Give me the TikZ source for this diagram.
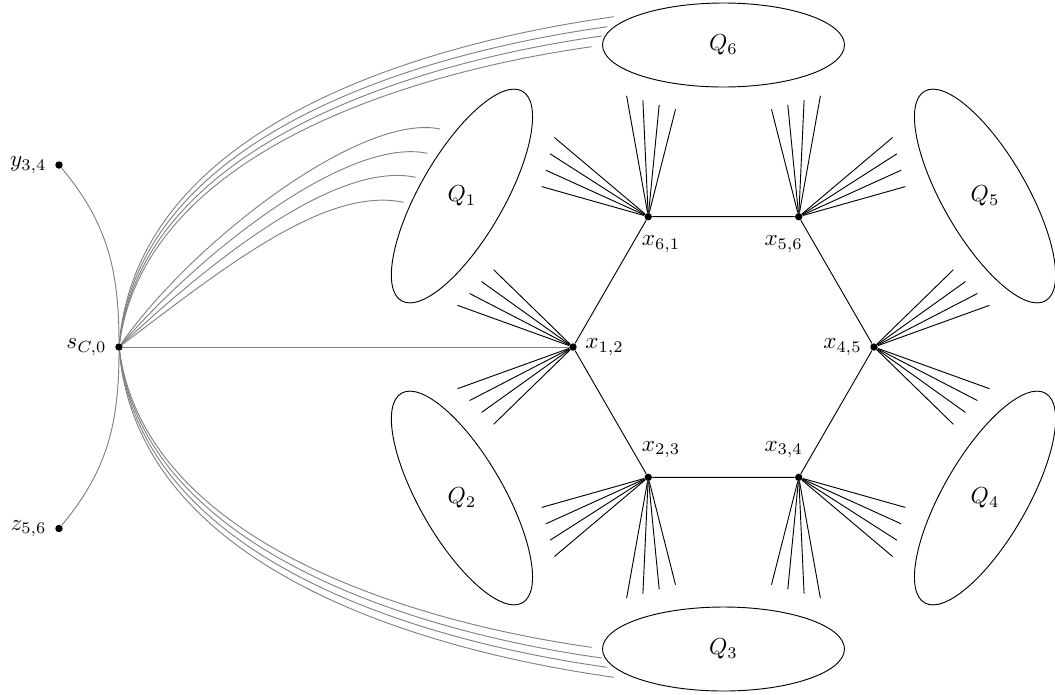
\documentclass[tikz,border=0pt]{standalone}
\usetikzlibrary{shapes.geometric}
\begin{document}
\begin{tikzpicture}[x=0.0151659cm, y=0.0151659cm,
  dot/.style={circle, fill=black, inner sep=0pt, minimum size=3.2pt},
  qell/.style={draw, ellipse, inner sep=0pt, minimum width=36.70mm, minimum height=12.74mm},
  fan/.style={black},
  link/.style={gray},
  hexedge/.style={black}]
\useasboundingbox (-723.5,-347) rectangle (331.5,347);

% hexagon vertices
\node[dot, label={[label distance=3pt, xshift=-6.5pt]below:$x_{5,6}$}] (x56) at (60:150.5) {};
\node[dot, label={[label distance=3pt, xshift=5.5pt]below:$x_{6,1}$}] (x61) at (120:150.5) {};
\node[dot, label={right:$x_{1,2}$}] (x12) at (180:150.5) {};
\node[dot, label={[label distance=3pt, xshift=5.5pt]above:$x_{2,3}$}] (x23) at (240:150.5) {};
\node[dot, label={[label distance=3pt, xshift=-6.5pt]above:$x_{3,4}$}] (x34) at (300:150.5) {};
\node[dot, label={left:$x_{4,5}$}] (x45) at (0:150.5) {};

\draw[hexedge] (x12) -- (x23) -- (x34) -- (x45) -- (x56) -- (x61) -- (x12);

% Q ellipses
\foreach \k/\q in {0/6,1/1,2/2,3/3,4/4,5/5}{
  \node[qell, rotate=60*\k] (Q\q) at ({90+60*\k}:302) {};
  \node (Q\q lab) at (Q\q) {$Q_{\q}$};
}

% fans
\foreach \k/\r/\l in {0/x56/x61, 1/x61/x12, 2/x12/x23, 3/x23/x34, 4/x34/x45, 5/x45/x56}{
  \begin{scope}[rotate=60*\k]
    \foreach \i in {0,...,3}{
      \coordinate (fr\k-\i) at ({48+16.3*\i},{237.7+4.5*\i});
      \coordinate (fl\k-\i) at ({-48-16.3*\i},{237.7+4.5*\i});
      \draw[fan] (\r) -- (fr\k-\i);
      \draw[fan] (\l) -- (fl\k-\i);
    }
  \end{scope}
}

% left nodes
\node[dot, label={left:$s_{C,0}$}] (s) at (-604.5,0) {};
\node[dot, label={left:$y_{3,4}$}] (y34) at (-664.5,182) {};
\node[dot, label={left:$z_{5,6}$}] (z56) at (-664.5,-181.5) {};

\draw[link] (s) to[out=90, in=-50] (y34);
\draw[link] (s) to[out=-90, in=50] (z56);
\draw[link] (s) -- (x12);

% curve ends
\coordinate (e6a) at (-109.5,330.3);
\coordinate (e6b) at (-116.2,320.3);
\coordinate (e6c) at (-121.8,311);
\coordinate (e6d) at (-131.8,300.3);
\coordinate (e3a) at (-109.5,-330.3);
\coordinate (e3b) at (-116.2,-320.3);
\coordinate (e3c) at (-121.8,-311);
\coordinate (e3d) at (-131.8,-300.3);
\coordinate (e1a) at (-283.5,218);
\coordinate (e1b) at (-296.2,193.7);
\coordinate (e1c) at (-307.8,169.7);
\coordinate (e1d) at (-319.8,144.7);

\draw[link] (s) .. controls +(85:220) and +(188:200) .. (e6a);
\draw[link] (s) .. controls +(84:212) and +(188:195) .. (e6b);
\draw[link] (s) .. controls +(83:204) and +(188:190) .. (e6c);
\draw[link] (s) .. controls +(82:196) and +(188:185) .. (e6d);

\draw[link] (s) .. controls +(-85:220) and +(172:200) .. (e3a);
\draw[link] (s) .. controls +(-84:212) and +(172:195) .. (e3b);
\draw[link] (s) .. controls +(-83:204) and +(172:190) .. (e3c);
\draw[link] (s) .. controls +(-82:196) and +(172:185) .. (e3d);

\draw[link] (s) .. controls +(55:130) and +(168:80) .. (e1a);
\draw[link] (s) .. controls +(49:130) and +(168:80) .. (e1b);
\draw[link] (s) .. controls +(43:130) and +(168:80) .. (e1c);
\draw[link] (s) .. controls +(37:130) and +(168:80) .. (e1d);
\end{tikzpicture}
\end{document}
